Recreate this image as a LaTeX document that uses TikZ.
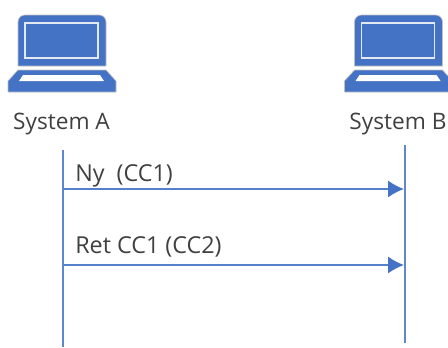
\documentclass[tikz,border=0pt]{standalone}
\usepackage{fontspec}
\setmainfont{Open Sans}
\usetikzlibrary{arrows.meta}
\definecolor{sysblue}{HTML}{4472C4}
\definecolor{syslabel}{HTML}{404040}
\tikzset{
  lifeline/.style={draw=sysblue!85,line width=1.7pt},
  message/.style={draw=sysblue!90,line width=1.5pt,-{Latex[length=12pt,width=13pt,color=sysblue]}},
  label/.style={font=\fontsize{17pt}{20pt}\selectfont,text=syslabel,inner sep=0pt},
  msglabel/.style={label,font=\fontsize{17.5pt}{20pt}\selectfont,anchor=base west},
  body/.style={fill=sysblue,draw=black!25,line width=0.5pt,line join=round},
  pane/.style={draw=white!85!sysblue,line width=0.9pt},
  pics/laptop/.style={code={
    \draw[body] (18,66) -- (18,22) to[out=90,in=180] (25,15) -- (99,15) to[out=0,in=90] (106,22) -- (106,66) -- cycle;
    \draw[pane] (25,23) rectangle (98,58);
    \draw[body] (18,70) -- (106,70) -- (116,81) -- (116,92) -- (8,92) -- (8,81) -- cycle;
    \fill[white] (23,75) -- (100,75) -- (104,81) -- (19,81) -- cycle;
  }}
}
\begin{document}
\begin{tikzpicture}[x=0.75pt,y=-0.75pt]
\useasboundingbox (0,0) rectangle (448,347);
\pic (lapa) at (0,0) {laptop};
\pic (lapb) at (336.5,0) {laptop};
\node[label] (sysa) at (61.5,124) {System A};
\node[label] (sysb) at (398,124) {System B};

\coordinate (atop) at (63,150);
\coordinate (abot) at (63,347);
\coordinate (btop) at (405,145);
\coordinate (bbot) at (405,343);
\draw[lifeline] (atop) -- (abot);
\draw[lifeline] (btop) -- (bbot);

\coordinate (nya) at (63,189);
\coordinate (nyb) at (404,189);
\coordinate (reta) at (63,265);
\coordinate (retb) at (404,265);
\draw[message] (nya) -- (nyb);
\draw[message] (reta) -- (retb);
\node[msglabel] (ny) at (75,181) {Ny\ \ (CC1)};
\node[msglabel] (ret) at (75,253) {Ret CC1 (CC2)};
\end{tikzpicture}
\end{document}
